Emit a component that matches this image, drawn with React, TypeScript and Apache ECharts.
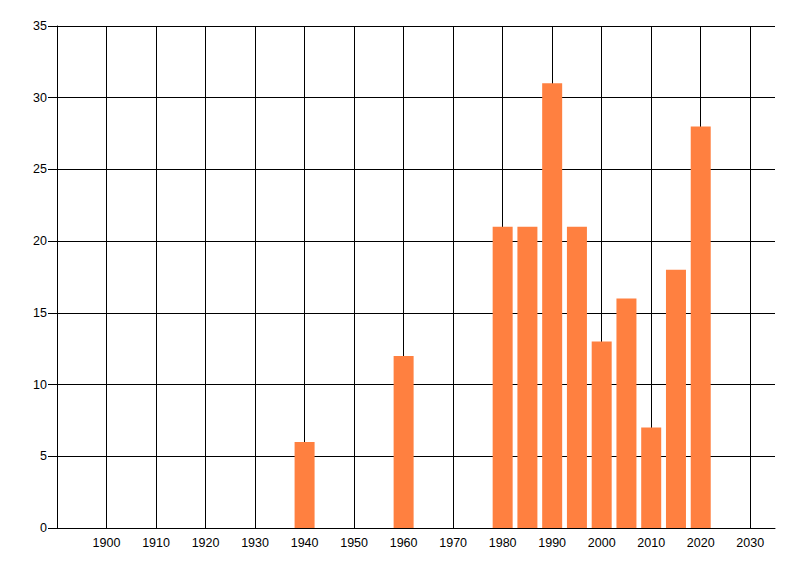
import React, { useEffect, useRef } from "react";
import * as echarts from "echarts";

const years = [1940, 1960, 1980, 1985, 1990, 1995, 2000, 2005, 2010, 2015, 2020];
const counts = [6, 12, 21, 21, 31, 21, 13, 16, 7, 18, 28];
const xMin = 1890;
const xMax = 2035;
const yMin = 0;
const yMax = 35;

export default function App() {
  const ref = useRef<HTMLDivElement>(null);
  useEffect(() => {
    if (!ref.current) return;
    const chart = echarts.init(ref.current, undefined, { renderer: "svg" });
    const font = "'Liberation Sans Narrow', 'Liberation Sans', Arial, sans-serif";
    chart.setOption({
      animation: false,
      backgroundColor: "#ffffff",
      grid: { left: 57, right: 25, top: 26, bottom: 48, containLabel: false },
      xAxis: {
        type: "value",
        min: xMin,
        max: xMax,
        interval: 10,
        axisLine: { show: true, lineStyle: { color: "#000", width: 1 } },
        axisTick: { show: false },
        axisLabel: {
          color: "#000",
          fontFamily: font,
          fontSize: 12.5,
          margin: 8,
          showMinLabel: false,
          showMaxLabel: false,
          formatter: (v: number) => String(v),
        },
        splitLine: { show: true, showMinLine: false, showMaxLine: false, lineStyle: { color: "#000", width: 1 } },
      },
      yAxis: {
        type: "value",
        min: yMin,
        max: yMax,
        interval: 5,
        axisLine: { show: true, lineStyle: { color: "#000", width: 1 } },
        axisTick: { show: true, length: 9, lineStyle: { color: "#000", width: 1 } },
        axisLabel: { color: "#000", fontFamily: font, fontSize: 12.5, margin: 10 },
        splitLine: { show: true, lineStyle: { color: "#000", width: 1 } },
      },
      series: [
        {
          type: "bar",
          data: years.map((y, i) => [y, counts[i]]),
          barWidth: 20,
          itemStyle: { color: "#FF8040" },
        },
      ],
    });
    return () => chart.dispose();
  }, []);
  return (
    <div
      ref={ref}
      style={{ position: "absolute", left: 0, top: 0, width: 800, height: 576 }}
    />
  );
}
